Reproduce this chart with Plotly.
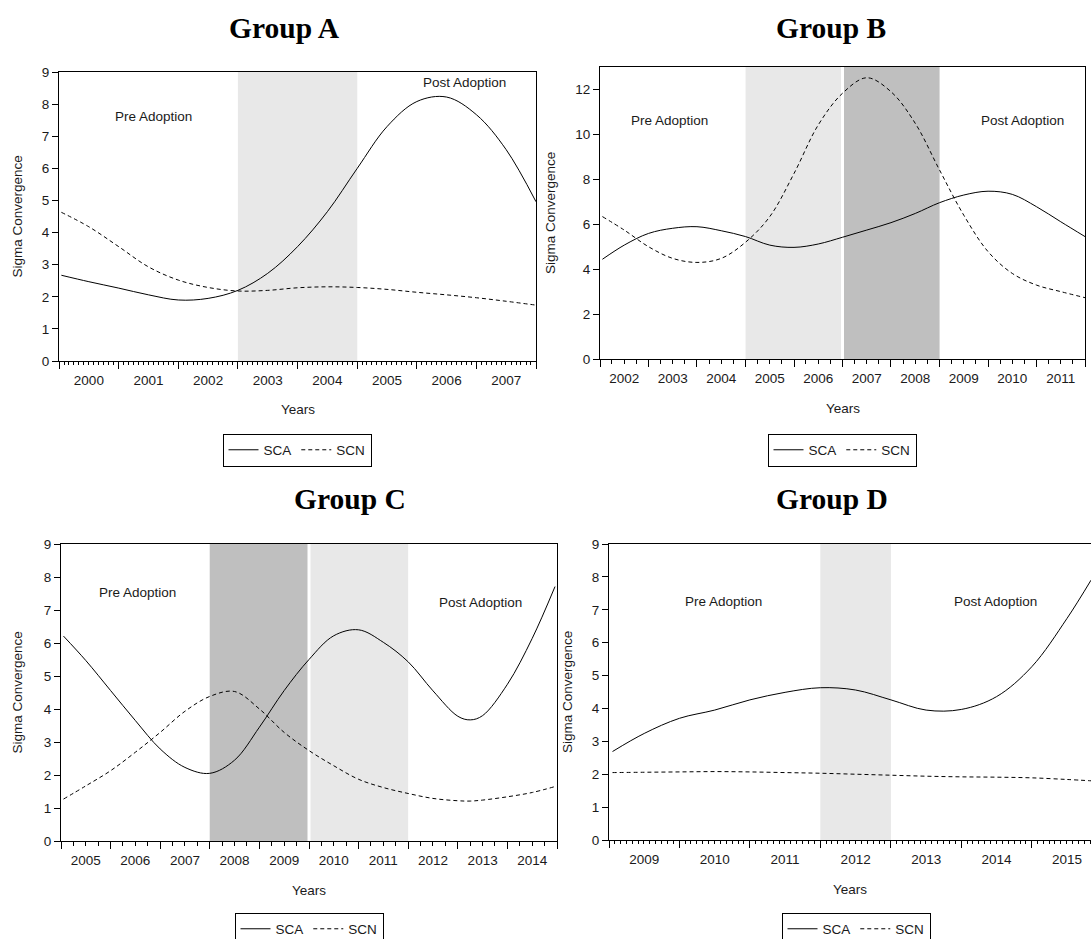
import plotly.graph_objects as go
from datetime import datetime

# ---------------- data ----------------
A_years = [2000.04, 2000.5, 2001.0, 2001.5, 2002.0, 2002.5, 2003.0, 2003.5, 2004.0, 2004.5,
           2005.0, 2005.5, 2006.0, 2006.5, 2007.0, 2007.5, 2008.0]
A_sca = [2.67, 2.47, 2.27, 2.06, 1.90, 1.95, 2.20, 2.73, 3.56, 4.65, 6.0, 7.3, 8.08, 8.22, 7.67, 6.58, 4.96]
A_scn = [4.63, 4.18, 3.56, 2.93, 2.52, 2.29, 2.18, 2.20, 2.28, 2.31, 2.29, 2.23, 2.14, 2.06, 1.97, 1.86, 1.74]

B_years = [2002.05, 2002.5, 2003.0, 2003.5, 2004.0, 2004.5, 2005.0, 2005.5, 2006.0, 2006.5, 2007.0,
           2007.5, 2008.0, 2008.5, 2009.0, 2009.5, 2010.0, 2010.5, 2011.0, 2011.5, 2012.0]
B_sca = [4.44, 5.07, 5.59, 5.82, 5.89, 5.71, 5.45, 5.07, 4.97, 5.12, 5.42, 5.74, 6.07, 6.48, 6.96,
         7.30, 7.47, 7.33, 6.78, 6.11, 5.45]
B_scn = [6.34, 5.74, 5.00, 4.48, 4.30, 4.48, 5.20, 6.34, 8.26, 10.42, 11.83, 12.52, 11.90, 10.49,
         8.41, 6.40, 4.78, 3.81, 3.29, 3.00, 2.73]

C_years = [2005.05, 2005.5, 2006.0, 2006.5, 2007.0, 2007.5, 2008.0, 2008.5, 2009.0, 2009.5, 2010.0,
           2010.5, 2011.0, 2011.5, 2012.0, 2012.5, 2013.0, 2013.25, 2013.5, 2014.0, 2014.5, 2014.96]
C_sca = [6.21, 5.47, 4.56, 3.65, 2.79, 2.23, 2.05, 2.45, 3.45, 4.56, 5.50, 6.22, 6.40, 6.02, 5.43,
         4.55, 3.78, 3.67, 3.80, 4.75, 6.14, 7.71]
C_scn = [1.27, 1.67, 2.13, 2.69, 3.29, 3.93, 4.38, 4.53, 4.00, 3.29, 2.74, 2.28, 1.87, 1.62, 1.44,
         1.29, 1.22, 1.21, 1.24, 1.34, 1.47, 1.65]

D_years = [2009.05, 2009.5, 2010.0, 2010.5, 2011.0, 2011.5, 2012.0, 2012.5, 2013.0, 2013.5, 2014.0,
           2014.5, 2015.0, 2015.5, 2015.84]
D_sca = [2.69, 3.24, 3.70, 3.95, 4.26, 4.49, 4.63, 4.56, 4.26, 3.95, 3.97, 4.36, 5.27, 6.74, 7.90]
D_scn = [2.05, 2.06, 2.07, 2.08, 2.07, 2.05, 2.03, 2.00, 1.97, 1.94, 1.92, 1.91, 1.89, 1.84, 1.80]

# shaded periods: (start, end, tone)
A_shades = [(2003, 2005, "light")]
B_shades = [(2005, 2007, "light"), (2007, 2009, "dark")]
C_shades = [(2008, 2010, "dark"), (2010, 2012, "light")]
D_shades = [(2012, 2013, "light")]

A_xrange = [2000.0, 2008.0]
B_xrange = [2002.0, 2012.0]
C_xrange = [2005.0, 2015.0]
D_xrange = [2009.0, 2015.84]

A_yrange, A_dtick = [0, 9], 1
B_yrange, B_dtick = [0, 13], 2
C_yrange, C_dtick = [0, 9], 1
D_yrange, D_dtick = [0, 9], 1

titles = ["Group A", "Group B", "Group C", "Group D"]
series_names = ["SCA", "SCN"]
# label positions (year, value)
A_labels = [(2001.58, 7.6, "Pre Adoption"), (2006.8, 8.66, "Post Adoption")]
B_labels = [(2003.44, 10.64, "Pre Adoption"), (2010.72, 10.64, "Post Adoption")]
C_labels = [(2006.55, 7.52, "Pre Adoption"), (2013.45, 7.24, "Post Adoption")]
D_labels = [(2010.62, 7.25, "Pre Adoption"), (2014.49, 7.25, "Post Adoption")]

# ---------------- layout geometry (pixels) ----------------
W, H = 1091, 939
panel_px = [  # x0, x1, ytop, ybottom
    (59, 536, 72, 361),
    (600, 1085, 67, 359),
    (61, 557, 544, 841),
    (609, 1091, 544, 840),
]
title_px = [(284, 28), (831, 28), (350, 499), (832, 499)]
legend_px = [(297, 450), (842, 450), (309, 929), (856, 929)]
ytitle_shift = [-42, -50, -44, -42]
minor_dticks = ["M1", "M3", "M3", "M1"]
minor_lens = [3, 4, 4, 3]

SANS = "Liberation Sans, Arial, sans-serif"
SERIF = "Liberation Serif, Times New Roman, serif"
TXT = "#1a1a1a"
FS = 13.5
shade_colors = {"light": "#e8e8e8", "dark": "#bfbfbf"}


def dec2date(v):
    y = int(v)
    frac = v - y
    start = datetime(y, 1, 1)
    end = datetime(y + 1, 1, 1)
    d = start + (end - start) * frac
    return d.strftime("%Y-%m-%d %H:%M:%S")


panels = [
    (A_years, A_sca, A_scn, A_shades, A_xrange, A_yrange, A_dtick, A_labels),
    (B_years, B_sca, B_scn, B_shades, B_xrange, B_yrange, B_dtick, B_labels),
    (C_years, C_sca, C_scn, C_shades, C_xrange, C_yrange, C_dtick, C_labels),
    (D_years, D_sca, D_scn, D_shades, D_xrange, D_yrange, D_dtick, D_labels),
]

fig = go.Figure()
shapes = []
annotations = []
layout = {}

for i, (yrs, sca, scn, shades, xr, yr, dt, labels) in enumerate(panels):
    n = i + 1
    sfx = "" if n == 1 else str(n)
    xname, yname = "x" + sfx, "y" + sfx
    lname = "legend" + sfx
    xs = [dec2date(v) for v in yrs]
    fig.add_trace(go.Scatter(x=xs, y=sca, mode="lines", name=series_names[0],
                             line=dict(color="black", width=1, shape="spline"),
                             xaxis=xname, yaxis=yname, legend=lname))
    fig.add_trace(go.Scatter(x=xs, y=scn, mode="lines", name=series_names[1],
                             line=dict(color="black", width=1, shape="spline", dash="4px,3px"),
                             xaxis=xname, yaxis=yname, legend=lname))
    x0, x1, yt, yb = panel_px[i]
    layout["xaxis" + sfx] = dict(
        type="date", domain=[x0 / W, x1 / W], anchor=yname,
        range=[dec2date(xr[0]), dec2date(xr[1])],
        dtick="M12", tick0="2000-01-01", tickformat="%Y", ticklabelmode="period",
        ticks="outside", ticklen=7, tickwidth=1, tickcolor="black",
        minor=dict(dtick=minor_dticks[i], ticks="outside", ticklen=minor_lens[i],
                   tickwidth=1, tickcolor="black", showgrid=False),
        showline=True, linecolor="black", linewidth=1, mirror=True,
        showgrid=False, zeroline=False, automargin=False,
        tickfont=dict(family=SANS, size=FS, color=TXT),
    )
    layout["yaxis" + sfx] = dict(
        domain=[1 - yb / H, 1 - yt / H], anchor=xname, range=yr, dtick=dt, tick0=0,
        ticks="outside", ticklen=6, tickwidth=1, tickcolor="black",
        showline=True, linecolor="black", linewidth=1, mirror=(n != 4),
        showgrid=False, zeroline=False, automargin=False,
        tickfont=dict(family=SANS, size=FS, color=TXT),
    )
    # shaded periods
    for (s0, s1, tone) in shades:
        shapes.append(dict(type="rect", xref=xname, yref=yname + " domain",
                           x0=dec2date(s0), x1=dec2date(s1), y0=0, y1=1,
                           fillcolor=shade_colors[tone], line=dict(width=0), layer="below"))
    for (s0, s1, _t) in shades:
        for (u0, u1, _u) in shades:
            if s1 == u0:
                shapes.append(dict(type="line", xref=xname, yref=yname + " domain",
                                   x0=dec2date(s1), x1=dec2date(s1), y0=0, y1=1,
                                   line=dict(color="white", width=3), layer="below"))
    # text labels
    for (lx, ly, txt) in labels:
        annotations.append(dict(x=dec2date(lx), y=ly, xref=xname, yref=yname, text=txt,
                                showarrow=False, xanchor="center", yanchor="middle",
                                font=dict(family=SANS, size=FS, color=TXT)))
    # axis titles
    annotations.append(dict(x=0.5, y=0, xref=xname + " domain", yref=yname + " domain",
                            yshift=-49, text="Years", showarrow=False,
                            xanchor="center", yanchor="middle",
                            font=dict(family=SANS, size=FS, color=TXT)))
    annotations.append(dict(x=0, y=0.5, xref=xname + " domain", yref=yname + " domain",
                            xshift=ytitle_shift[i], text="Sigma Convergence", textangle=-90,
                            showarrow=False, xanchor="center", yanchor="middle",
                            font=dict(family=SANS, size=FS, color=TXT)))
    # panel title
    tx, ty = title_px[i]
    annotations.append(dict(x=tx / W, y=1 - ty / H, xref="paper", yref="paper",
                            text=titles[i], showarrow=False, xanchor="center", yanchor="middle",
                            font=dict(family=SERIF, size=29.5, color="black", weight="bold")))
    lx, ly = legend_px[i]
    layout[lname] = dict(orientation="h", x=lx / W, y=1 - ly / H, xanchor="center",
                         yanchor="middle", bordercolor="black", borderwidth=1,
                         bgcolor="white", font=dict(family=SANS, size=FS, color=TXT),
                         itemwidth=30)

fig.update_layout(
    width=W, height=H, margin=dict(l=0, r=0, t=0, b=0, autoexpand=False),
    paper_bgcolor="white", plot_bgcolor="white",
    shapes=shapes, annotations=annotations, showlegend=True,
    **layout,
)

fig.write_html(
    "out.html",
    config={"displayModeBar": False},
    post_script="document.body.style.margin='0';document.body.style.padding='0';"
                "document.body.style.overflow='hidden';",
)
